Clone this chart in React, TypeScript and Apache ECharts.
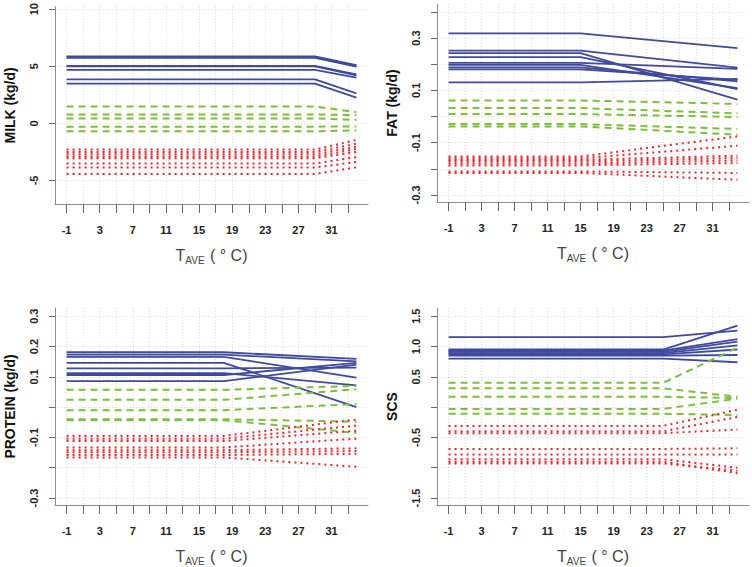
import React, { useEffect, useRef } from "react";
import * as echarts from "echarts";

// ---------- data ----------
const X_FIRST = -1;
const X_LAST = 34;
const xTickValues = [-1, 1, 3, 5, 7, 9, 11, 13, 15, 17, 19, 21, 23, 25, 27, 29, 31, 33];
const xLabelValues = [-1, 3, 7, 11, 15, 19, 23, 27, 31];

// each line: [value from -1 up to the break, value at 34]
const milkBreak = 29;
const milkBlue = [[5.87, 5.1], [5.8, 5.02], [5.74, 4.96], [5.04, 4.28], [4.98, 4.2], [4.68, 4.0], [3.85, 2.62], [3.48, 2.25]];
const milkGreen = [[1.48, 0.98], [0.78, 0.72], [0.43, 0.3], [-0.29, -0.27], [-0.69, -0.62]];
const milkRed = [[-2.3, -1.45], [-2.5, -1.78], [-2.7, -2.05], [-2.9, -2.25], [-3.05, -2.5], [-3.52, -2.95], [-3.87, -3.38], [-4.43, -3.85]];
const milkYTicks = [-5, 0, 5, 10];
const milkYLabels = [-5, 0, 5, 10];

const fatBreak = 15;
const fatBlue = [[0.318, 0.261], [0.252, 0.187], [0.242, 0.064], [0.227, 0.105], [0.205, 0.182], [0.197, 0.108], [0.188, 0.134], [0.18, 0.14], [0.13, 0.144]];
const fatGreen = [[0.061, 0.048], [0.032, 0.012], [0.009, -0.002], [-0.029, -0.048], [-0.038, -0.07]];
const fatRed = [[-0.153, -0.076], [-0.16, -0.112], [-0.166, -0.15], [-0.172, -0.159], [-0.18, -0.168], [-0.187, -0.178], [-0.21, -0.216], [-0.216, -0.242]];
const fatYTicks = [-0.3, -0.2, -0.1, 0, 0.1, 0.2, 0.3, 0.4];
const fatYLabels = [-0.3, -0.1, 0.1, 0.3];

const proteinBreak = 18;
const proteinBlue = [[0.181, 0.159], [0.173, 0.151], [0.166, 0.097], [0.146, 0.0], [0.128, 0.13], [0.112, 0.072], [0.106, 0.146], [0.086, 0.14]];
const proteinGreen = [[0.057, 0.07], [0.024, 0.059], [-0.01, 0.01], [-0.04, -0.048], [-0.043, -0.085]];
const proteinRed = [[-0.095, -0.041], [-0.104, -0.061], [-0.112, -0.078], [-0.133, -0.104], [-0.142, -0.136], [-0.149, -0.145], [-0.158, -0.154], [-0.166, -0.197]];
const proteinYTicks = [-0.3, -0.2, -0.1, 0, 0.1, 0.2, 0.3];
const proteinYLabels = [-0.3, -0.1, 0.1, 0.2, 0.3];

const scsBreak = 25;
const scsBlue = [[1.155, 1.263], [0.95, 1.345], [0.93, 1.12], [0.91, 1.08], [0.89, 1.02], [0.87, 0.95], [0.85, 0.86], [0.8, 0.74]];
const scsGreen = [[0.4, 0.98], [0.31, 0.17], [0.17, 0.15], [-0.03, 0.14], [-0.11, -0.13]];
const scsRed = [[-0.31, -0.044], [-0.4, -0.163], [-0.43, -0.37], [-0.69, -0.68], [-0.78, -0.78], [-0.86, -1.0], [-0.9, -1.09], [-0.93, -1.05]];
const scsYTicks = [-1.5, -1, -0.5, 0, 0.5, 1, 1.5];
const scsYLabels = [-1.5, -0.5, 0.5, 1, 1.5];

// ---------- styling ----------
const BLUE = "#3F4A9E";
const GREEN = "#7CBF3F";
const RED = "#E8262C";
const FONT = "Liberation Sans, Arial, sans-serif";

const panels = [
  { name: "MILK (kg/d)", brk: milkBreak, blue: milkBlue, green: milkGreen, red: milkRed, yTicks: milkYTicks, yLabels: milkYLabels, ymin: -7.06, ymax: 10.2, dec: 0, grid: { left: 55, top: 5, width: 313, height: 199 } },
  { name: "FAT (kg/d)", brk: fatBreak, blue: fatBlue, green: fatGreen, red: fatRed, yTicks: fatYTicks, yLabels: fatYLabels, ymin: -0.327, ymax: 0.43, dec: 1, grid: { left: 437, top: 4, width: 312, height: 198 } },
  { name: "PROTEIN (kg/d)", brk: proteinBreak, blue: proteinBlue, green: proteinGreen, red: proteinRed, yTicks: proteinYTicks, yLabels: proteinYLabels, ymin: -0.323, ymax: 0.327, dec: 1, grid: { left: 55, top: 308, width: 313, height: 199 } },
  { name: "SCS", brk: scsBreak, blue: scsBlue, green: scsGreen, red: scsRed, yTicks: scsYTicks, yLabels: scsYLabels, ymin: -1.615, ymax: 1.635, dec: 1, grid: { left: 437, top: 308, width: 312, height: 200 } },
];

function buildOption() {
  const grid: any[] = [];
  const xAxis: any[] = [];
  const yAxis: any[] = [];
  const series: any[] = [];
  panels.forEach((p, i) => {
    grid.push({ ...p.grid, containLabel: false });
    xAxis.push({
      type: "value",
      gridIndex: i,
      min: -2.4,
      max: 35.4,
      axisLine: { show: true, onZero: false, lineStyle: { color: "#8a8a8a", width: 1 } },
      axisTick: { show: true, length: 9, customValues: xTickValues, lineStyle: { color: "#666" } },
      axisLabel: { customValues: xLabelValues, margin: 20, fontWeight: "bold", fontSize: 11, color: "#222", fontFamily: FONT },
      splitLine: { show: true, lineStyle: { color: "#dcdcdc", type: [1, 2] } },
      name: "{t|T}{s|AVE}{t| ( \u00B0 C)}",
      nameLocation: "middle",
      nameGap: 42,
      nameTextStyle: {
        rich: {
          t: { fontSize: 16, color: "#444", fontFamily: FONT },
          s: { fontSize: 10, color: "#444", fontFamily: FONT, padding: [9, 1, 0, 0] },
        },
      },
    });
    yAxis.push({
      type: "value",
      gridIndex: i,
      min: p.ymin,
      max: p.ymax,
      axisLine: { show: true, onZero: false, lineStyle: { color: "#8a8a8a", width: 1 } },
      axisTick: { show: true, length: 6, customValues: p.yTicks, lineStyle: { color: "#666" } },
      axisLabel: {
        customValues: p.yLabels,
        rotate: 90,
        margin: 16,
        fontWeight: "bold",
        fontSize: 11,
        color: "#222",
        fontFamily: FONT,
        formatter: (v: number) => v.toFixed(p.dec),
      },
      splitLine: { show: true, lineStyle: { color: "#dcdcdc", type: [1, 2] } },
      name: p.name,
      nameLocation: "middle",
      nameRotate: 90,
      nameGap: 38,
      nameTextStyle: { fontWeight: "bold", fontSize: 14, color: "#111", fontFamily: FONT },
    });
    const addGroup = (lines: number[][], color: string, width: number, type: any) => {
      lines.forEach((ln) => {
        series.push({
          type: "line",
          xAxisIndex: i,
          yAxisIndex: i,
          showSymbol: false,
          silent: true,
          data: [
            [X_FIRST, ln[0]],
            [p.brk, ln[0]],
            [X_LAST, ln[1]],
          ],
          lineStyle: { color, width, type },
        });
      });
    };
    addGroup(p.blue, BLUE, 1.8, "solid");
    addGroup(p.green, GREEN, 2, [7, 5]);
    addGroup(p.red, RED, 2, [2, 4]);
  });
  return { animation: false, backgroundColor: "#fff", grid, xAxis, yAxis, series };
}

export default function App() {
  const ref = useRef<HTMLDivElement>(null);
  useEffect(() => {
    if (!ref.current) return;
    const chart = echarts.init(ref.current, undefined, { renderer: "svg" });
    chart.setOption(buildOption() as any);
    return () => chart.dispose();
  }, []);
  return <div ref={ref} style={{ position: "fixed", left: 0, top: 0, width: 752, height: 567, background: "#fff" }} />;
}
